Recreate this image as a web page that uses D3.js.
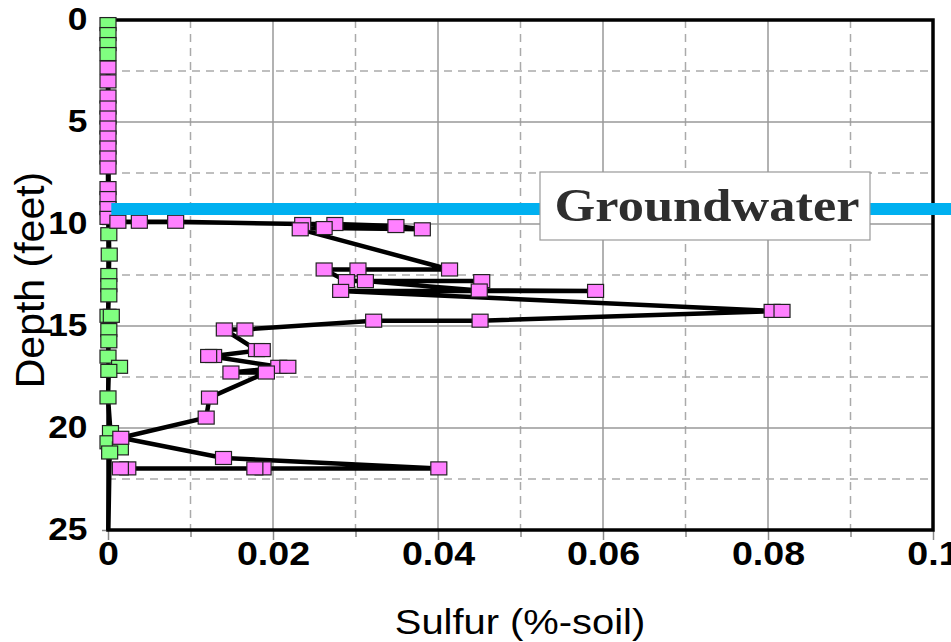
<!DOCTYPE html>
<html>
<head>
<meta charset="utf-8">
<script src="https://cdn.jsdelivr.net/npm/d3@7"></script>
<style>
  body { margin: 0; background: #fff; }
  text { font-family: Arial, "Liberation Sans", sans-serif; }
</style>
</head>
<body>
<div id="chart"></div>
<script>
// green samples (depth in feet, sulfur in %-soil)
var greenDepth  = [0.2, 0.69, 1.18, 1.67, 10.5, 11.5, 12.5, 13.0, 13.5, 14.5, 14.5, 15.2, 15.75, 16.5, 17.0, 17.2, 18.5, 20.2, 20.7, 21.0, 21.2, 26];
var greenSulfur = [0, 0, 0, 0, 0.0001, 0.00015, 0.0001, 0.0001, 0.0001, 0, 0.0004, 0.0001, 0.0001, 0, 0.0014, 0.0001, 0, 0.0003, 0, 0.0015, 0.0002, 0];

// pink samples, in the order the line joins them
var pinkDepth  = [2.33, 3.01, 3.75, 4.29, 4.78, 5.27, 5.76, 6.25, 6.74, 7.23, 8.24, 8.73, 9.22, 9.7,
                  9.89, 9.89, 9.89, 10.0, 10.0, 10.1, 10.26, 10.2, 10.26,
                  12.23, 12.23, 12.23, 12.8, 12.8, 12.8, 13.26, 13.28, 13.28,
                  14.26, 14.26, 14.74, 14.74, 15.17, 15.17, 16.18, 16.18, 16.47, 16.47,
                  17.0, 17.0, 17.28, 17.28, 18.51, 19.49, 20.48, 21.47,
                  21.98, 21.98, 21.98, 21.98, 21.98];
var pinkSulfur = [0, 0, 0, 0, 0, 0, 0, 0, 0, 0, 0, 0, 0, 0,
                  0.0012, 0.0038, 0.0082, 0.0236, 0.0275, 0.0349, 0.0381, 0.0262, 0.0233,
                  0.0414, 0.0303, 0.0262, 0.0289, 0.0453, 0.0312, 0.0450, 0.0591, 0.0282,
                  0.0805, 0.0817, 0.0451, 0.0322, 0.0166, 0.0141, 0.0180, 0.0187, 0.0128, 0.0122,
                  0.0207, 0.0218, 0.0149, 0.0192, 0.0123, 0.0119, 0.00155, 0.0140,
                  0.0401, 0.0188, 0.0178, 0.0024, 0.0015];

var xTicks = [0, 0.02, 0.04, 0.06, 0.08, 0.1];
var xTickLabels = ["0", "0.02", "0.04", "0.06", "0.08", "0.1"];
var xMinorTicks = [0.01, 0.03, 0.05, 0.07, 0.09];
var yTicks = [0, 5, 10, 15, 20, 25];
var yMinorTicks = [2.5, 7.5, 12.5, 17.5, 22.5];
var groundwaterDepth = 9.26;
var groundwaterLabel = "Groundwater";

var W = 951, H = 642;
var plotL = 108, plotR = 933, plotT = 20, plotB = 530;
var stretch = 1.14; // text in the picture is a little wider than normal

var x = d3.scaleLinear().domain([0, 0.1]).range([plotL, plotR]);
var y = d3.scaleLinear().domain([0, 25]).range([plotT, plotB]);

var svg = d3.select("#chart").append("svg")
    .attr("width", W)
    .attr("height", H);

svg.append("defs").append("clipPath").attr("id", "clip")
  .append("rect").attr("x", 0).attr("y", 0).attr("width", W).attr("height", plotB);

// grid
var grid = svg.append("g");
grid.selectAll("line.vmaj").data(xTicks.slice(1, -1)).enter().append("line")
    .attr("x1", d => x(d)).attr("x2", d => x(d)).attr("y1", plotT).attr("y2", plotB)
    .attr("stroke", "#999").attr("stroke-width", 1.5);
grid.selectAll("line.vmin").data(xMinorTicks).enter().append("line")
    .attr("x1", d => x(d)).attr("x2", d => x(d)).attr("y1", plotT).attr("y2", plotB)
    .attr("stroke", "#aaa").attr("stroke-width", 1.5).attr("stroke-dasharray", "8,6");
grid.selectAll("line.hmaj").data(yTicks.slice(1, -1)).enter().append("line")
    .attr("y1", d => y(d)).attr("y2", d => y(d)).attr("x1", plotL).attr("x2", plotR)
    .attr("stroke", "#999").attr("stroke-width", 1.5);
grid.selectAll("line.hmin").data(yMinorTicks).enter().append("line")
    .attr("y1", d => y(d)).attr("y2", d => y(d)).attr("x1", plotL).attr("x2", plotR)
    .attr("stroke", "#aaa").attr("stroke-width", 1.5).attr("stroke-dasharray", "8,6");

// axes
var xAxis = svg.append("g").attr("transform", "translate(0," + plotB + ")")
    .call(d3.axisBottom(x).tickValues(xTicks).tickSize(10).tickPadding(2)
      .tickFormat((d, i) => xTickLabels[i]));
var xAxisMinor = svg.append("g").attr("transform", "translate(0," + plotB + ")")
    .call(d3.axisBottom(x).tickValues(xMinorTicks).tickSize(7).tickFormat(""));
var yAxis = svg.append("g").attr("transform", "translate(" + plotL + ",0)")
    .call(d3.axisLeft(y).tickValues(yTicks).tickSize(6).tickPadding(12));

[xAxis, xAxisMinor, yAxis].forEach(function(g) {
  g.select(".domain").remove();
  g.selectAll(".tick line").attr("stroke", "#888").attr("stroke-width", 1.5);
});
xAxis.selectAll("text")
    .attr("font-size", 33).attr("font-weight", "bold").attr("fill", "#000")
    .attr("transform", "scale(" + stretch + ",1)");
yAxis.selectAll("text")
    .attr("font-size", 31).attr("font-weight", "bold").attr("fill", "#000")
    .attr("transform", "scale(" + stretch + ",1)");

// frame
svg.append("rect")
    .attr("x", plotL).attr("y", plotT).attr("width", plotR - plotL).attr("height", plotB - plotT)
    .attr("fill", "none").attr("stroke", "#000").attr("stroke-width", 3.5);

var line = d3.line().x(d => x(d[1])).y(d => y(d[0]));

function drawSeries(depths, values, fill) {
  var pts = depths.map((d, i) => [d, values[i]]);
  var g = svg.append("g").attr("clip-path", "url(#clip)");
  g.append("path").datum(pts)
      .attr("d", line)
      .attr("fill", "none").attr("stroke", "#000").attr("stroke-width", 4.5)
      .attr("stroke-linejoin", "miter");
  g.selectAll("rect").data(pts).enter().append("rect")
      .attr("x", d => x(d[1]) - 8).attr("y", d => y(d[0]) - 6.5)
      .attr("width", 16).attr("height", 13)
      .attr("fill", fill).attr("stroke", "#222").attr("stroke-width", 1.2);
}
drawSeries(greenDepth, greenSulfur, "#80ff80");
drawSeries(pinkDepth, pinkSulfur, "#ff80ff");

// groundwater level
svg.append("line")
    .attr("x1", x(0.0004)).attr("x2", W)
    .attr("y1", y(groundwaterDepth)).attr("y2", y(groundwaterDepth))
    .attr("stroke", "#00b0f0").attr("stroke-width", 12);

svg.append("rect")
    .attr("x", 540).attr("y", 172).attr("width", 330).attr("height", 68)
    .attr("fill", "#fff").attr("stroke", "#999").attr("stroke-width", 1.2);
svg.append("text")
    .attr("transform", "translate(707,221) scale(" + stretch + ",1)")
    .attr("text-anchor", "middle")
    .attr("font-weight", "bold").attr("font-size", 46).attr("fill", "#2e2e2e")
    .style("font-family", "'Liberation Serif', 'Times New Roman', serif")
    .text(groundwaterLabel);

// axis titles
svg.append("text")
    .attr("transform", "translate(44,280) rotate(-90)")
    .attr("text-anchor", "middle")
    .attr("font-size", 41).attr("fill", "#000")
    .text("Depth (feet)");
svg.append("text")
    .attr("transform", "translate(520,634) scale(" + stretch + ",1)")
    .attr("text-anchor", "middle")
    .attr("font-size", 35).attr("fill", "#000")
    .text("Sulfur (%-soil)");
</script>
</body>
</html>
